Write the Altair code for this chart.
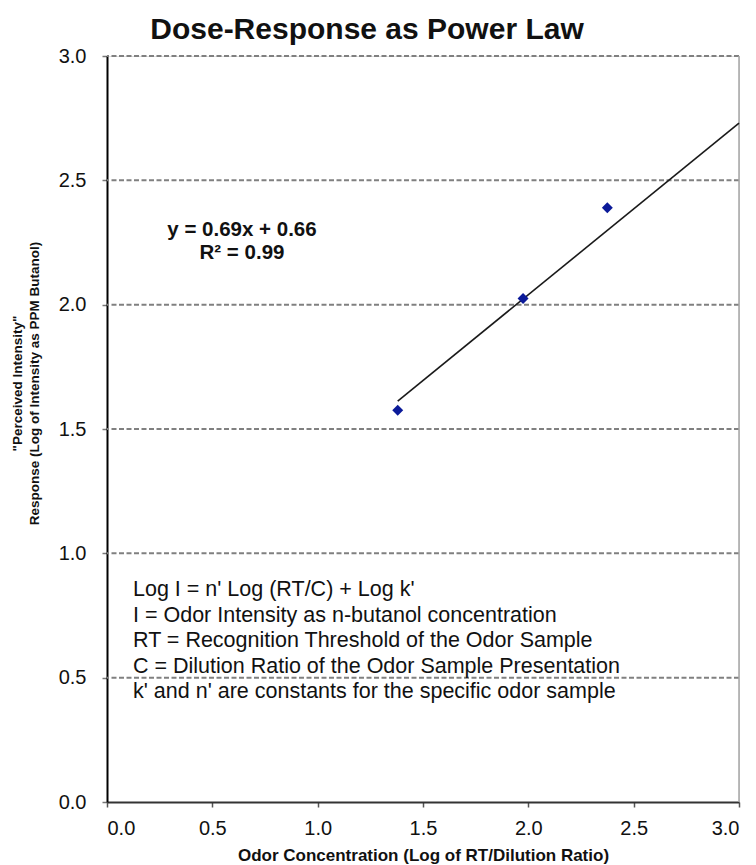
import altair as alt
import pandas as pd

# ---- data ----
odor_conc = [1.38, 1.975, 2.375]          # Log of RT/Dilution Ratio
perceived = [1.575, 2.025, 2.39]          # Log of Intensity as PPM Butanol
fit_slope = 0.69
fit_intercept = 0.66
fit_x = [1.38, 3.0]                       # extent of the drawn trendline
tick_values = [0.0, 0.5, 1.0, 1.5, 2.0, 2.5, 3.0]
grid_values = [0.5, 1.0, 1.5, 2.0, 2.5, 3.0]
eq_lines = ["y = 0.69x + 0.66", "R\u00b2 = 0.99"]
note_lines = [
    "Log I = n' Log (RT/C) + Log k'",
    "I = Odor Intensity as n-butanol concentration",
    "RT = Recognition Threshold of the Odor Sample",
    "C = Dilution Ratio of the Odor Sample Presentation",
    "k' and n' are constants for the specific odor sample",
]

FONT = "Liberation Sans"
W, H = 632, 746

pts = pd.DataFrame({"x": odor_conc, "y": perceived})
fit = pd.DataFrame({"x": fit_x, "y": [fit_slope * v + fit_intercept for v in fit_x]})
grid = pd.DataFrame({"y": grid_values})
border = pd.DataFrame({"x": [3.0]})

xscale = alt.Scale(domain=[0, 3], nice=False, zero=False)
yscale = alt.Scale(domain=[0, 3], nice=False, zero=False)

gridlines = alt.Chart(grid).mark_rule(
    color="#808080", strokeWidth=2, strokeDash=[5, 2.5]
).encode(y=alt.Y("y:Q", scale=yscale))

right_border = alt.Chart(border).mark_rule(color="#a6a6a6", strokeWidth=1.5).encode(
    x=alt.X("x:Q", scale=xscale)
)

trend = alt.Chart(fit).mark_line(color="#1a1a1a", strokeWidth=1.6).encode(
    x=alt.X("x:Q", scale=xscale),
    y=alt.Y("y:Q", scale=yscale),
)

points = alt.Chart(pts).mark_point(
    shape="diamond", filled=True, color="#0b1a99", size=120, opacity=1
).encode(
    x=alt.X(
        "x:Q",
        scale=xscale,
        axis=alt.Axis(
            values=tick_values,
            format=".1f",
            grid=False,
            title="Odor Concentration (Log of RT/Dilution Ratio)",
            titleFont=FONT,
            titleFontSize=17,
            titleFontWeight="bold",
            titleColor="#111",
            titlePadding=9,
            labelFont=FONT,
            labelFontSize=20,
            labelColor="#111",
            labelPadding=11,
            domainColor="#333",
            domainWidth=2,
            tickColor="#555",
            tickWidth=1.5,
            tickSize=5,
        ),
    ),
    y=alt.Y(
        "y:Q",
        scale=yscale,
        axis=alt.Axis(
            values=tick_values,
            format=".1f",
            grid=False,
            title=['"Perceived Intensity"', "Response (Log of Intensity as PPM Butanol)"],
            titleFont=FONT,
            titleFontSize=13.5,
            titleFontWeight="bold",
            titleColor="#111",
            titleLineHeight=17,
            titleX=-97,
            titleY=327,
            titleBaseline="top",
            titleAngle=270,
            labelFont=FONT,
            labelFontSize=20,
            labelColor="#111",
            labelPadding=16,
            domainColor="#000",
            domainWidth=2,
            tickColor="#777",
            tickWidth=1.5,
            tickSize=5,
        ),
    ),
)

equation = alt.Chart(pd.DataFrame({"t": [0]})).mark_text(
    text=eq_lines,
    font=FONT,
    fontSize=20.5,
    fontWeight="bold",
    align="center",
    baseline="top",
    lineHeight=23,
    color="#111",
).encode(x=alt.value(135), y=alt.value(164))

notes = alt.Chart(pd.DataFrame({"t": [0]})).mark_text(
    text=note_lines,
    font=FONT,
    fontSize=21.5,
    align="left",
    baseline="top",
    lineHeight=25.5,
    color="#111",
).encode(x=alt.value(26), y=alt.value(523))

chart = (
    alt.layer(gridlines, right_border, trend, points, equation, notes)
    .properties(
        width=W,
        height=H,
        title=alt.TitleParams(
            "Dose-Response as Power Law",
            font=FONT,
            fontSize=30,
            fontWeight="bold",
            color="#111",
            anchor="middle",
            dx=-56,
            offset=1,
        ),
        autosize=alt.AutoSizeParams(type="none"),
        padding={"left": 107, "top": 56, "right": 17, "bottom": 63},
    )
    .configure_view(stroke=None)
    .configure(background="white")
)

chart.save("out.html", embed_options={"renderer": "svg", "actions": False})
